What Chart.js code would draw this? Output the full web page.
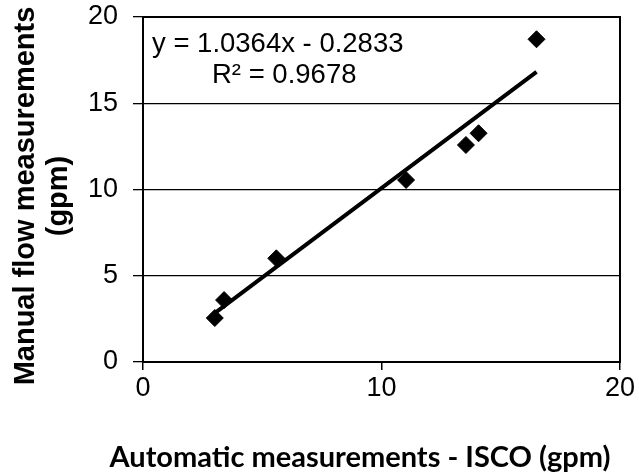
<!DOCTYPE html>
<html>
<head>
<meta charset="utf-8">
<script src="https://cdn.jsdelivr.net/npm/chart.js@4/dist/chart.umd.min.js"></script>
<style>
html,body{margin:0;padding:0;background:#fff;}
#wrap{width:639px;height:475px;position:relative;}
</style>
</head>
<body>
<div id="wrap"><canvas id="c" width="639" height="475"></canvas></div>
<script>
// Data
const isco = [3.01, 3.40, 5.59, 11.03, 13.54, 14.07, 16.50];
const manual = [2.55, 3.59, 6.01, 10.55, 12.58, 13.26, 18.71];
const slope = 1.0364;
const intercept = -0.2833;
const rSquared = 0.9678;
const xTicks = [0, 10, 20];
const yTicks = [0, 5, 10, 15, 20];
const xTitle = 'Automatic measurements - ISCO (gpm)';
const yTitle = ['Manual flow measurements', '(gpm)'];

const points = isco.map((x, i) => ({x: x, y: manual[i]}));
const xMin = Math.min(...isco), xMax = Math.max(...isco);
const trend = [xMin, xMax].map(x => ({x: x, y: slope * x + intercept}));
const eqText = 'y = ' + slope.toFixed(4) + 'x - ' + Math.abs(intercept).toFixed(4);
const r2Text = 'R\u00B2 = ' + rSquared.toFixed(4);

const frame = {
  id: 'frame',
  afterDatasetsDraw(chart) {
    const a = chart.chartArea, ctx = chart.ctx;
    ctx.save();
    ctx.strokeStyle = '#000';
    ctx.lineWidth = 2;
    ctx.strokeRect(a.left, a.top, a.right - a.left, a.bottom - a.top);
    ctx.fillStyle = '#000';
    ctx.font = '27.5px "Liberation Sans", Arial, sans-serif';
    ctx.textBaseline = 'middle';
    ctx.textAlign = 'left';
    ctx.fillText(eqText, a.left + 9, a.top + 27);
    ctx.fillText(r2Text, a.left + 69, a.top + 58);
    // x axis title
    ctx.font = 'bold 29px Lato, "Open Sans", sans-serif';
    ctx.textAlign = 'center';
    ctx.fillText(xTitle, 360, 458);
    // y axis title
    ctx.font = 'bold 29px "Liberation Sans", Arial, sans-serif';
    ctx.translate(26, 196);
    ctx.rotate(-Math.PI / 2);
    ctx.fillText(yTitle[0], 0, 0);
    ctx.fillText(yTitle[1], 0, 33);
    ctx.restore();
  }
};

new Chart(document.getElementById('c'), {
  type: 'scatter',
  data: {
    datasets: [
      {
        data: points,
        pointStyle: 'rectRot',
        pointRadius: 8.5,
        pointHoverRadius: 8.5,
        backgroundColor: '#000',
        borderColor: '#000',
        borderWidth: 1,
        order: 1
      },
      {
        type: 'line',
        data: trend,
        borderColor: '#000',
        borderWidth: 4,
        pointRadius: 0,
        fill: false,
        order: 2
      }
    ]
  },
  options: {
    responsive: false,
    animation: false,
    devicePixelRatio: 1,
    layout: {padding: {left: 0, right: 19, top: 17, bottom: 0}},
    plugins: {legend: {display: false}, tooltip: {enabled: false}},
    scales: {
      x: {
        type: 'linear',
        min: 0, max: 20,
        afterBuildTicks: s => { s.ticks = xTicks.map(v => ({value: v})); },
        afterFit: s => { s.height = 113; s.paddingLeft = 0; s.paddingRight = 0; s.paddingTop = 0; s.paddingBottom = 0; },
        grid: {drawOnChartArea: false, drawTicks: true, tickLength: 8, color: '#000', lineWidth: 1.5},
        border: {display: true, color: '#000', width: 2},
        ticks: {color: '#000', padding: 2, maxRotation: 0, font: {family: '"Liberation Sans", Arial, sans-serif', size: 27}}
      },
      y: {
        type: 'linear',
        min: 0, max: 20,
        afterBuildTicks: s => { s.ticks = yTicks.map(v => ({value: v})); },
        afterFit: s => { s.width = 143; s.paddingTop = 0; s.paddingBottom = 0; s.paddingLeft = 0; s.paddingRight = 0; },
        grid: {drawOnChartArea: true, drawTicks: true, tickLength: 10, color: '#000', lineWidth: 1.3},
        border: {display: true, color: '#000', width: 2},
        ticks: {color: '#000', padding: 15, font: {family: '"Liberation Sans", Arial, sans-serif', size: 27}}
      }
    }
  },
  plugins: [frame]
});
</script>
</body>
</html>
